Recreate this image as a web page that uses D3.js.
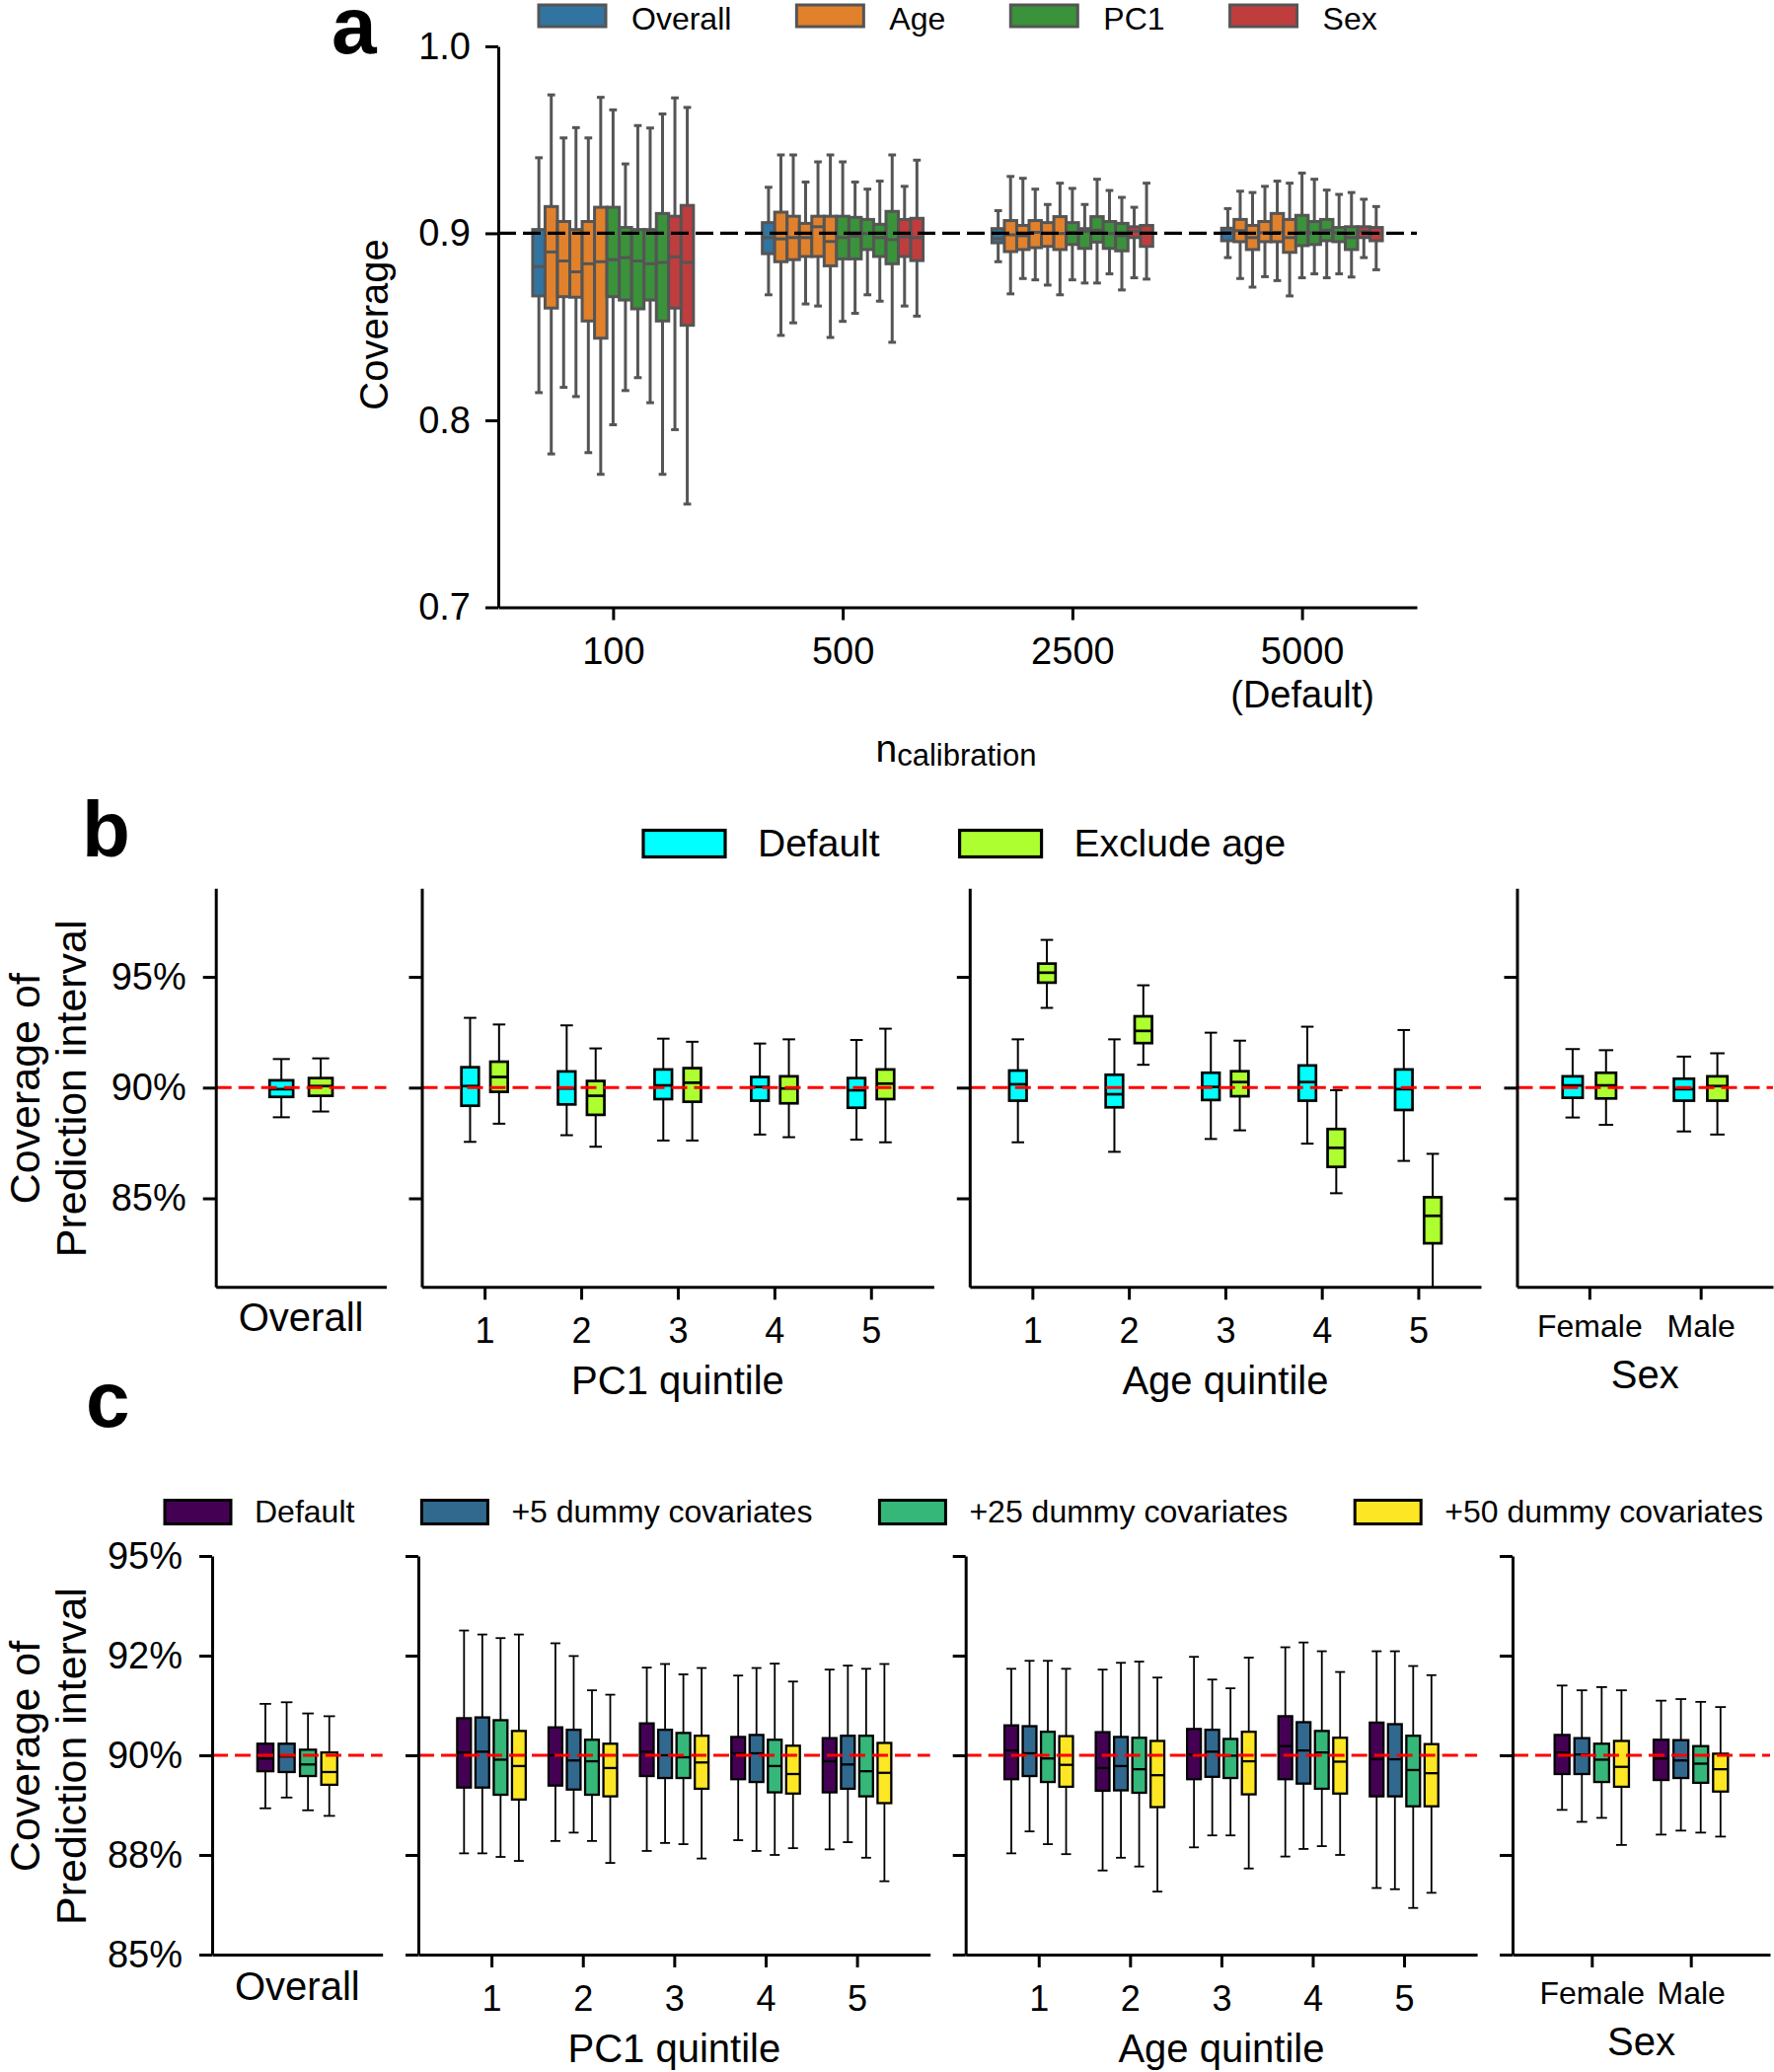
<!DOCTYPE html>
<html><head><meta charset="utf-8">
<script src="https://cdn.jsdelivr.net/npm/d3@7"></script>
<style>body{margin:0;background:#fff}</style>
</head><body><script>
// ---------------- DATA ----------------
// Panel a: box stats [whiskerLow, q1, median, q3, whiskerHigh]; order: Overall, Age Q1-5, PC1 Q1-5, Sex F/M
const aCalib = ["100","500","2500","5000"];
const aXTickLabels = [["100"],["500"],["2500"],["5000","(Default)"]];
const aYTicks = [0.7,0.8,0.9,1.0];
const aYTickLabels = ["0.7","0.8","0.9","1.0"];
const aLegend = ["Overall","Age","PC1","Sex"];
const aHueOfBox = [0,1,1,1,1,1,2,2,2,2,2,3,3];
const aN100 = [
 [0.8148,0.8665,0.8822,0.9020,0.9404],
 [0.7820,0.8600,0.8900,0.9143,0.9740],
 [0.8176,0.8661,0.8852,0.9063,0.9510],
 [0.8127,0.8658,0.8794,0.9020,0.9565],
 [0.7827,0.8531,0.8837,0.9063,0.9510],
 [0.7711,0.8439,0.8848,0.9139,0.9727],
 [0.7976,0.8661,0.8859,0.9139,0.9660],
 [0.8159,0.8643,0.8870,0.9031,0.9371],
 [0.8228,0.8596,0.8852,0.9020,0.9576],
 [0.8094,0.8643,0.8837,0.9020,0.9563],
 [0.7711,0.8531,0.8844,0.9106,0.9638],
 [0.7950,0.8600,0.8874,0.9091,0.9724],
 [0.7552,0.8508,0.8844,0.9149,0.9673]];
const aN500 = [
 [0.8671,0.8891,0.8977,0.9057,0.9246],
 [0.8454,0.8848,0.8970,0.9113,0.9419],
 [0.8521,0.8859,0.8977,0.9091,0.9419],
 [0.8622,0.8876,0.8977,0.9053,0.9274],
 [0.8611,0.8876,0.9035,0.9091,0.9382],
 [0.8443,0.8826,0.8956,0.9091,0.9419],
 [0.8529,0.8863,0.8977,0.9091,0.9382],
 [0.8572,0.8863,0.8984,0.9085,0.9274],
 [0.8671,0.8913,0.8999,0.9074,0.9236],
 [0.8637,0.8876,0.8977,0.9048,0.9279],
 [0.8417,0.8837,0.8966,0.9117,0.9419],
 [0.8611,0.8876,0.8981,0.9074,0.9251],
 [0.8557,0.8854,0.8977,0.9080,0.9391]];
const aN2500 = [
 [0.8848,0.8949,0.8971,0.9025,0.9121],
 [0.8676,0.8902,0.8992,0.9068,0.9304],
 [0.8758,0.8913,0.8987,0.9042,0.9294],
 [0.8751,0.8923,0.9005,0.9068,0.9236],
 [0.8723,0.8930,0.8999,0.9057,0.9154],
 [0.8671,0.8913,0.8999,0.9089,0.9268],
 [0.8751,0.8940,0.9005,0.9057,0.9240],
 [0.8734,0.8919,0.9010,0.9025,0.9154],
 [0.8734,0.8953,0.9016,0.9089,0.9289],
 [0.8783,0.8919,0.8999,0.9063,0.9229],
 [0.8697,0.8906,0.8987,0.9053,0.9192],
 [0.8762,0.8977,0.9010,0.9035,0.9139],
 [0.8755,0.8930,0.9003,0.9042,0.9268]];
const aN5000 = [
 [0.8870,0.8960,0.9005,0.9027,0.9132],
 [0.8758,0.8955,0.9014,0.9074,0.9225],
 [0.8712,0.8913,0.8977,0.9042,0.9218],
 [0.8768,0.8955,0.9003,0.9063,0.9251],
 [0.8747,0.8955,0.9005,0.9106,0.9279],
 [0.8665,0.8898,0.8977,0.9074,0.9268],
 [0.8762,0.8934,0.9003,0.9096,0.9322],
 [0.8783,0.8940,0.9003,0.9063,0.9289],
 [0.8762,0.8960,0.9016,0.9074,0.9231],
 [0.8783,0.8955,0.9003,0.9031,0.9208],
 [0.8766,0.8913,0.8977,0.9035,0.9218],
 [0.8870,0.8977,0.9010,0.9035,0.9182],
 [0.8805,0.8960,0.8999,0.9031,0.9143]];

// Panel b (percent): [whiskerLow, q1, median, q3, whiskerHigh]
const bLegend = ["Default","Exclude age"];
const bYTicks = [85,90,95];
const bYTickLabels = ["85%","90%","95%"];
const quintiles = ["1","2","3","4","5"];
const sexCats = ["Female","Male"];
const bDefOverall = [[88.66,89.58,89.93,90.33,91.29]];
const bExcOverall = [[88.92,89.63,90.07,90.43,91.32]];
const bDefPC1 = [[87.55,89.18,90.07,90.92,93.15],[87.85,89.24,89.96,90.73,92.81],[87.61,89.48,90.10,90.82,92.21],[87.88,89.41,90.03,90.48,91.99],[87.65,89.09,89.88,90.43,92.15]];
const bExcPC1 = [[88.37,89.81,90.48,91.17,92.85],[87.33,88.77,89.63,90.30,91.77],[87.61,89.36,90.22,90.88,92.07],[87.76,89.29,89.96,90.51,92.18],[87.53,89.48,90.18,90.82,92.66]];
const bDefAge = [[87.53,89.41,90.15,90.77,92.18],[87.10,89.11,89.70,90.58,92.18],[87.68,89.44,90.03,90.67,92.48],[87.47,89.41,90.25,91.00,92.75],[86.69,88.99,89.93,90.82,92.60]];
const bExcAge = [[93.60,94.74,95.19,95.60,96.67],[91.03,92.01,92.56,93.22,94.62],[88.07,89.61,90.25,90.74,92.12],[85.23,86.42,87.28,88.13,89.88],[80.30,82.97,84.21,85.05,87.01]];
const bDefSex = [[88.65,89.54,90.10,90.51,91.74],[88.02,89.41,89.93,90.40,91.40]];
const bExcSex = [[88.32,89.51,90.10,90.67,91.69],[87.88,89.41,90.07,90.51,91.55]];

// Panel c (percent)
const cLegend = ["Default","+5 dummy covariates","+25 dummy covariates","+50 dummy covariates"];
const cYTicks = [85,87.5,90,92.5,95];
const cYTickLabels = ["85%","88%","90%","92%","95%"];
const cD0Overall = [[88.67,89.60,89.92,90.29,91.29]];
const cD5Overall = [[88.94,89.58,89.97,90.29,91.33]];
const cD25Overall = [[88.62,89.48,89.77,90.14,91.05]];
const cD50Overall = [[88.48,89.26,89.58,90.07,90.98]];
const cD0PC1 = [[87.54,89.19,90.07,90.93,93.13],[87.85,89.24,90.00,90.70,92.81],[87.60,89.48,90.09,90.80,92.20],[87.87,89.40,90.05,90.46,92.00],[87.64,89.07,89.85,90.43,92.15]];
const cD5PC1 = [[87.54,89.19,90.09,90.95,93.03],[88.06,89.14,89.87,90.64,92.49],[87.80,89.43,90.00,90.64,92.29],[87.60,89.33,90.05,90.51,92.19],[87.82,89.16,89.77,90.49,92.25]];
const cD25PC1 = [[87.45,89.01,89.89,90.88,92.94],[87.85,89.01,89.85,90.39,91.63],[87.77,89.43,89.95,90.56,92.03],[87.50,89.07,89.73,90.39,92.30],[87.43,88.97,89.60,90.49,92.17]];
const cD50PC1 = [[87.35,88.89,89.73,90.61,93.03],[87.30,88.97,89.68,90.29,91.52],[87.41,89.16,89.82,90.49,92.19],[87.67,89.04,89.53,90.24,91.85],[86.84,88.80,89.56,90.31,92.29]];
const cD0Age = [[87.54,89.40,90.12,90.75,92.17],[87.11,89.11,89.68,90.58,92.15],[87.69,89.40,90.02,90.66,92.47],[87.46,89.40,90.23,90.98,92.71],[86.67,88.97,89.90,90.82,92.61]];
const cD5Age = [[88.09,89.48,90.05,90.73,92.37],[87.43,89.12,89.73,90.46,92.32],[87.99,89.46,90.09,90.64,91.90],[87.65,89.29,90.12,90.83,92.83],[86.64,88.97,89.90,90.78,92.61]];
const cD25Age = [[87.77,89.33,89.92,90.59,92.37],[87.21,89.06,89.65,90.44,92.35],[87.99,89.43,89.99,90.41,91.68],[87.72,89.16,90.07,90.61,92.61],[86.17,88.72,89.63,90.49,92.24]];
const cD50Age = [[87.52,89.21,89.76,90.48,92.17],[86.58,88.70,89.50,90.36,91.95],[87.16,89.02,89.85,90.59,92.45],[87.50,89.04,89.84,90.44,92.09],[86.55,88.72,89.55,90.28,92.01]];
const cD0Sex = [[88.63,89.53,90.07,90.51,91.75],[88.01,89.38,89.92,90.39,91.37]];
const cD5Sex = [[88.33,89.53,90.02,90.43,91.63],[88.11,89.43,89.87,90.38,91.41]];
const cD25Sex = [[88.43,89.33,89.89,90.29,91.71],[88.06,89.31,89.79,90.23,91.34]];
const cD50Sex = [[87.75,89.21,89.71,90.36,91.63],[87.96,89.09,89.65,90.04,91.21]];

// ---------------- STYLE ----------------
const FONT = '"Liberation Sans", Arial, Helvetica, sans-serif';
const aColors = ["#3274a1","#e1812c","#3a923a","#c03d3e"];
const bColors = ["#00ffff","#adff2f"];
const cColors = ["#440154","#31688e","#35b779","#fde725"];

const svg = d3.select("body").append("svg").attr("width",1798).attr("height",2100)
  .attr("font-family",FONT).style("background","#fff");

function drawBox(g, xc, bw, s, y, o){
  const [wb,q1,md,q3,wt] = s;
  const lo = y.domain()[0];
  const cw = bw*o.cap;
  const L = (x1,y1,x2,y2,sw)=>g.append("line").attr("x1",x1).attr("y1",y1).attr("x2",x2).attr("y2",y2)
     .attr("stroke",o.stroke).attr("stroke-width",sw);
  L(xc,y(q3),xc,y(wt),o.wsw);
  L(xc,y(q1),xc,y(Math.max(wb,lo)),o.wsw);
  L(xc-cw/2,y(wt),xc+cw/2,y(wt),o.wsw);
  if (wb>=lo) L(xc-cw/2,y(wb),xc+cw/2,y(wb),o.wsw);
  g.append("rect").attr("x",xc-bw/2).attr("y",y(q3)).attr("width",bw).attr("height",y(q1)-y(q3))
    .attr("fill",o.fill).attr("stroke",o.stroke).attr("stroke-width",o.bsw);
  L(xc-bw/2,y(md),xc+bw/2,y(md),o.msw);
}
function styleAxis(g, fs, sw){
  g.attr("font-size",fs).attr("font-family",FONT);
  g.selectAll("path,line").attr("stroke","#000").attr("stroke-width",sw);
  g.selectAll("text").attr("fill","#000");
}
function legend(g, items, colors, o){
  let x = o.x;
  items.forEach((t,i)=>{
    g.append("rect").attr("x",x).attr("y",o.y).attr("width",o.bw).attr("height",o.bh)
      .attr("fill",colors[i]).attr("stroke",o.stroke).attr("stroke-width",o.sw);
    const tx = g.append("text").attr("x",x+o.bw+o.gap1).attr("y",o.ty).attr("font-size",o.fs).text(t);
    x = x+o.bw+o.gap1+tx.node().getComputedTextLength()+o.gap2;
  });
}

// ---------------- PANEL A ----------------
const gA = svg.append("g");
const ya = d3.scaleLinear().domain([0.7,1.0]).range([615.5,46.9]);
const xa = d3.scaleLinear().domain([-0.5,aCalib.length-0.5]).range([505,1436]);
const aGroups = [aN100,aN500,aN2500,aN5000];
const nBox = aHueOfBox.length, aWidth = 0.7, slot = aWidth/nBox;
const slotPx = xa(slot)-xa(0);
aGroups.forEach((grp,gi)=>grp.forEach((s,k)=>{
  drawBox(gA, xa(gi-aWidth/2+slot*(k+0.5)), slotPx, s, ya,
    {fill:aColors[aHueOfBox[k]], stroke:"#555", cap:0.62, wsw:3, bsw:3, msw:3});
}));
gA.append("line").attr("x1",505).attr("x2",1436).attr("y1",ya(0.9)).attr("y2",ya(0.9))
  .attr("stroke","#000").attr("stroke-width",3.2).attr("stroke-dasharray","18,7");
const gay = gA.append("g").attr("transform","translate(505,0)")
  .call(d3.axisLeft(ya).tickValues(aYTicks).tickSize(13).tickPadding(15).tickSizeOuter(0).tickFormat((d,i)=>aYTickLabels[i]));
styleAxis(gay,38,3);
const gax = gA.append("g").attr("transform","translate(0,615.5)")
  .call(d3.axisBottom(xa).tickValues(d3.range(aCalib.length)).tickSize(13).tickSizeOuter(0).tickFormat(""));
styleAxis(gax,38,3);
gax.selectAll(".tick text").each(function(d){
  const t = d3.select(this).attr("y",57.5).attr("dy",null);
  aXTickLabels[d].forEach((s,j)=>t.append("tspan").attr("x",0).attr("dy",j?44:0).text(s));
});
gA.append("text").attr("transform","translate(393,329) rotate(-90)").attr("text-anchor","middle")
  .attr("font-size",40).text("Coverage");
const xl = gA.append("text").attr("x",969).attr("y",772).attr("text-anchor","middle");
xl.append("tspan").attr("font-size",39).text("n");
xl.append("tspan").attr("font-size",31).attr("dy",4).text("calibration");
legend(gA, aLegend, aColors, {x:546,y:5,bw:68,bh:22,gap1:26,gap2:66,fs:32,ty:30,stroke:"#555",sw:3});
gA.append("text").attr("x",336).attr("y",54).attr("font-size",82).attr("font-weight","bold").text("a");

// ---------------- FACET PANELS (b, c) ----------------
function drawFacetPanel(P){
  const g = svg.append("g");
  P.facets.forEach((f,fi)=>{
    const n = f.cats.length;
    const x = d3.scaleLinear().domain([-P.pad, n-1+P.pad]).range([f.x0,f.x1]);
    const unit = x(1)-x(0);
    f.series.forEach((ser,si)=>ser.forEach((s,ci)=>{
      drawBox(g, x(ci+P.offsets[si]), P.boxW*unit, s, P.y,
        {fill:P.colors[si], stroke:"#000", cap:0.72, wsw:P.wsw, bsw:P.bsw, msw:P.bsw});
    }));
    g.append("line").attr("x1",f.x0).attr("x2",f.x1).attr("y1",P.y(90)).attr("y2",P.y(90))
      .attr("stroke","#ff0000").attr("stroke-width",3).attr("stroke-dasharray","16,7");
    const gy = g.append("g").attr("transform",`translate(${f.x0},0)`)
      .call(d3.axisLeft(P.y).tickValues(P.yTicks).tickSize(13).tickPadding(17).tickSizeOuter(0)
        .tickFormat((d,i)=>fi===0?P.yTickLabels[i]:""));
    styleAxis(gy,38,3);
    const y0 = P.y.range()[0];
    const gx = g.append("g").attr("transform",`translate(0,${y0})`)
      .call(d3.axisBottom(x).tickValues(f.ticks?d3.range(n):[]).tickSize(13).tickSizeOuter(0).tickFormat(i=>f.cats[i]));
    styleAxis(gx,f.tickFs,3);
    gx.selectAll(".tick text").attr("y",f.tickDy).attr("dy",null);
    g.append("text").attr("x",(f.x0+f.x1)/2).attr("y",y0+f.labelDy)
      .attr("text-anchor","middle").attr("font-size",40).text(f.xlabel);
  });
  const yc = (P.y.range()[0]+P.y.range()[1])/2 + 1;
  g.append("text").attr("transform",`translate(40,${yc}) rotate(-90)`).attr("text-anchor","middle")
    .attr("font-size",43).text("Coverage of");
  g.append("text").attr("transform",`translate(87,${yc}) rotate(-90)`).attr("text-anchor","middle")
    .attr("font-size",43).text("Prediction interval");
  legend(g, P.legend, P.colors, P.leg);
  g.append("text").attr("x",P.letterX).attr("y",P.letterY).attr("font-size",80).attr("font-weight","bold").text(P.letter);
}

drawFacetPanel({
  y: d3.scaleLinear().domain([81,99]).range([1304.3,900.3]),
  yTicks: bYTicks, yTickLabels: bYTickLabels,
  pad: 0.65, offsets: [-0.15,0.15], boxW: 0.18, wsw: 2, bsw: 2.7,
  colors: bColors, legend: bLegend,
  leg: {x:652,y:841.5,bw:83,bh:27,gap1:33,gap2:81,fs:39,ty:868,stroke:"#000",sw:3.2},
  letter: "b", letterX: 83, letterY: 868,
  facets: [
    {x0:218.7,x1:391.5,cats:["Overall"],series:[bDefOverall,bExcOverall],ticks:false,tickFs:36,tickDy:56.5,xlabel:"Overall",labelDy:45},
    {x0:427.5,x1:946.4,cats:quintiles,series:[bDefPC1,bExcPC1],ticks:true,tickFs:36,tickDy:56.5,xlabel:"PC1 quintile",labelDy:109},
    {x0:982.8,x1:1501,cats:quintiles,series:[bDefAge,bExcAge],ticks:true,tickFs:36,tickDy:56.5,xlabel:"Age quintile",labelDy:109},
    {x0:1537.5,x1:1797,cats:sexCats,series:[bDefSex,bExcSex],ticks:true,tickFs:32,tickDy:51,xlabel:"Sex",labelDy:102.5}
  ]
});

drawFacetPanel({
  y: d3.scaleLinear().domain([85,95]).range([1981,1577]),
  yTicks: cYTicks, yTickLabels: cYTickLabels,
  pad: 0.8, offsets: [-0.3,-0.1,0.1,0.3], boxW: 0.15, wsw: 1.8, bsw: 2.3,
  colors: cColors, legend: cLegend,
  leg: {x:167,y:1520.5,bw:67,bh:24,gap1:24,gap2:68,fs:32,ty:1543,stroke:"#000",sw:3},
  letter: "c", letterX: 87, letterY: 1446,
  facets: [
    {x0:215,x1:387.7,cats:["Overall"],series:[cD0Overall,cD5Overall,cD25Overall,cD50Overall],ticks:false,tickFs:36,tickDy:57,xlabel:"Overall",labelDy:45.5},
    {x0:424,x1:942.7,cats:quintiles,series:[cD0PC1,cD5PC1,cD25PC1,cD50PC1],ticks:true,tickFs:36,tickDy:57,xlabel:"PC1 quintile",labelDy:109},
    {x0:978.7,x1:1497.1,cats:quintiles,series:[cD0Age,cD5Age,cD25Age,cD50Age],ticks:true,tickFs:36,tickDy:57,xlabel:"Age quintile",labelDy:109},
    {x0:1533,x1:1794,cats:sexCats,series:[cD0Sex,cD5Sex,cD25Sex,cD50Sex],ticks:true,tickFs:32,tickDy:50,xlabel:"Sex",labelDy:102}
  ]
});
</script></body></html>
